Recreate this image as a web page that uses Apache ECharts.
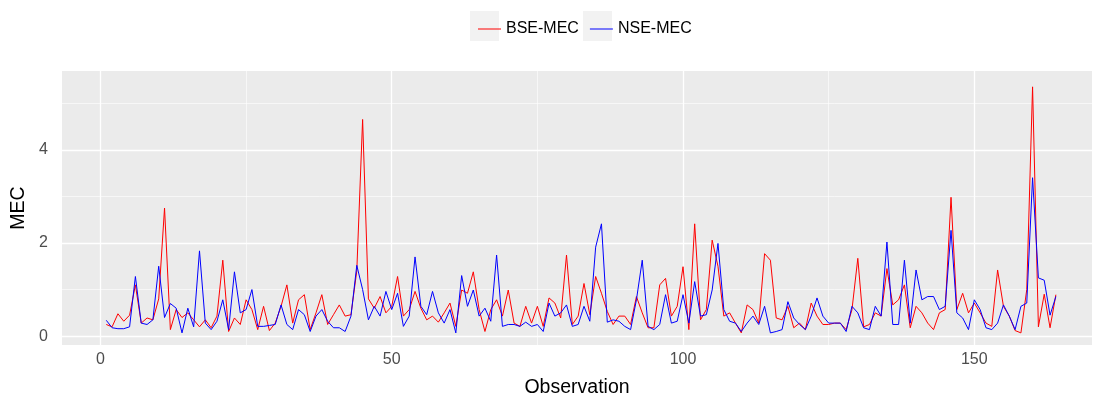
<!DOCTYPE html>
<html>
<head>
<meta charset="utf-8">
<script src="https://cdn.jsdelivr.net/npm/echarts@6/dist/echarts.min.js"></script>
<style>
  html, body { margin: 0; padding: 0; background: #fff; }
  #chart { width: 1094px; height: 398px; }
</style>
</head>
<body>
<div id="chart"></div>
<script>
// MEC per observation (obs 1..164)
var bseMec = [
  0.25, 0.2, 0.48, 0.32, 0.45, 1.1, 0.28, 0.39, 0.35, 0.8,
  2.75, 0.14, 0.57, 0.4, 0.5, 0.35, 0.2, 0.35, 0.18, 0.43,
  1.63, 0.1, 0.39, 0.25, 0.78, 0.57, 0.14, 0.64, 0.12, 0.28,
  0.64, 1.1, 0.28, 0.78, 0.89, 0.14, 0.5, 0.89, 0.25, 0.46,
  0.67, 0.43, 0.46, 1.4, 4.65, 0.8, 0.6, 0.85, 0.5, 0.64,
  1.28, 0.43, 0.57, 0.96, 0.6, 0.35, 0.43, 0.3, 0.5, 0.71,
  0.21, 0.99, 0.92, 1.38, 0.57, 0.1, 0.57, 0.78, 0.43, 0.99,
  0.28, 0.21, 0.64, 0.28, 0.64, 0.21, 0.82, 0.71, 0.39, 1.74,
  0.25, 0.43, 1.13, 0.46, 1.28, 0.92, 0.53, 0.25, 0.43, 0.43,
  0.25, 0.85, 0.5, 0.18, 0.18, 1.1, 1.24, 0.43, 0.64, 1.49,
  0.14, 2.41, 0.35, 0.57, 2.06, 1.5, 0.43, 0.5, 0.28, 0.07,
  0.67, 0.57, 0.28, 1.77, 1.63, 0.39, 0.35, 0.64, 0.18, 0.28,
  0.14, 0.71, 0.43, 0.25, 0.25, 0.28, 0.28, 0.14, 0.57, 1.67,
  0.2, 0.25, 0.5, 0.43, 1.45, 0.67, 0.78, 1.1, 0.18, 0.64,
  0.5, 0.28, 0.14, 0.5, 0.57, 2.98, 0.57, 0.92, 0.5, 0.71,
  0.5, 0.28, 0.21, 1.42, 0.64, 0.43, 0.12, 0.07, 1.0, 5.35,
  0.2, 0.9, 0.18, 0.89
];
var nseMec = [
  0.34, 0.18, 0.16, 0.16, 0.2, 1.28, 0.28, 0.25, 0.35, 1.5,
  0.4, 0.7, 0.6, 0.07, 0.6, 0.2, 1.83, 0.28, 0.14, 0.32,
  0.78, 0.14, 1.38, 0.5, 0.57, 1.0, 0.21, 0.21, 0.23, 0.25,
  0.67, 0.25, 0.14, 0.57, 0.46, 0.1, 0.43, 0.57, 0.32, 0.18,
  0.18, 0.1, 0.43, 1.52, 1.0, 0.35, 0.64, 0.43, 0.96, 0.57,
  0.92, 0.21, 0.43, 1.7, 0.64, 0.46, 0.96, 0.5, 0.28, 0.57,
  0.07, 1.3, 0.64, 0.99, 0.43, 0.6, 0.32, 1.74, 0.21, 0.25,
  0.25, 0.21, 0.3, 0.21, 0.25, 0.1, 0.71, 0.43, 0.5, 0.67,
  0.21, 0.25, 0.64, 0.32, 1.91, 2.41, 0.3, 0.35, 0.32, 0.21,
  0.14, 0.78, 1.63, 0.21, 0.14, 0.25, 0.89, 0.28, 0.32, 0.89,
  0.28, 1.17, 0.43, 0.46, 0.99, 1.99, 0.57, 0.32, 0.28, 0.1,
  0.28, 0.43, 0.25, 0.64, 0.07, 0.1, 0.14, 0.74, 0.39, 0.25,
  0.14, 0.43, 0.82, 0.43, 0.28, 0.28, 0.28, 0.1, 0.64, 0.5,
  0.18, 0.14, 0.64, 0.43, 2.02, 0.25, 0.25, 1.63, 0.28, 1.42,
  0.78, 0.85, 0.85, 0.57, 0.64, 2.27, 0.5, 0.39, 0.14, 0.78,
  0.57, 0.18, 0.14, 0.28, 0.67, 0.43, 0.14, 0.64, 0.71, 3.4,
  1.25, 1.2, 0.45, 0.85
];

var xMajor = [0, 50, 100, 150];
var xMinor = [25, 75, 125];
var yMajor = [0, 2, 4];
var yMinor = [1, 3, 5];

function toPoints(values) {
  return values.map(function (v, i) { return [i + 1, v]; });
}

function gridLines(axis, values, width) {
  return values.map(function (v) {
    var d = {};
    d[axis] = v;
    d.lineStyle = { color: '#ffffff', width: width, type: 'solid' };
    return d;
  });
}

var chart = echarts.init(document.getElementById('chart'));

var font = 'Liberation Sans, Arial, sans-serif';

var option = {
  backgroundColor: '#ffffff',
  animation: false,
  textStyle: { fontFamily: font },
  grid: {
    left: 62,
    right: 2,
    top: 71,
    bottom: 53,
    outerBoundsMode: 'none',
    containLabel: false,
    show: true,
    backgroundColor: '#EBEBEB',
    borderWidth: 0
  },
  legend: {
    top: 16,
    left: 473,
    itemWidth: 23,
    itemHeight: 1,
    itemGap: 11,
    icon: 'rect',
    itemStyle: { borderWidth: 0 },
    textStyle: { fontSize: 16, color: '#000', fontFamily: font },
    data: [
      { name: 'BSE-MEC', itemStyle: { color: '#FF0000', borderWidth: 0 } },
      { name: 'NSE-MEC', itemStyle: { color: '#0000FF', borderWidth: 0 } }
    ]
  },
  graphic: [
    { type: 'rect', shape: { x: 470, y: 11, width: 29, height: 30 }, style: { fill: '#F2F2F2' }, z: 0 },
    { type: 'rect', shape: { x: 583, y: 11, width: 29, height: 30 }, style: { fill: '#F2F2F2' }, z: 0 }
  ],
  xAxis: {
    type: 'value',
    min: -6.6,
    max: 170.2,
    name: 'Observation',
    nameLocation: 'middle',
    nameGap: 33,
    nameTextStyle: { fontSize: 19.5, color: '#000', fontFamily: font },
    axisLine: { show: false },
    axisTick: { show: true, length: 4, lineStyle: { color: '#333' }, customValues: xMajor },
    axisLabel: { fontSize: 16, color: '#4D4D4D', margin: 7, customValues: xMajor },
    splitLine: { show: false }
  },
  yAxis: {
    type: 'value',
    min: -0.19,
    max: 5.69,
    name: 'MEC',
    nameLocation: 'middle',
    nameGap: 29,
    nameRotate: 90,
    nameTextStyle: { fontSize: 19.5, color: '#000', fontFamily: font },
    axisLine: { show: false },
    axisTick: { show: true, length: 4, lineStyle: { color: '#333' }, customValues: yMajor },
    axisLabel: { fontSize: 16, color: '#4D4D4D', margin: 14, customValues: yMajor },
    splitLine: { show: false }
  },
  series: [
    {
      name: 'BSE-MEC',
      type: 'line',
      data: toPoints(bseMec),
      showSymbol: false,
      symbol: 'none',
      z: 3,
      lineStyle: { color: '#FF0000', width: 1 },
      itemStyle: { color: '#FF0000' },
      markLine: {
        silent: true,
        symbol: 'none',
        z: 1,
        label: { show: false },
        animation: false,
        data: gridLines('xAxis', xMinor, 0.6)
          .concat(gridLines('yAxis', yMinor, 0.6))
          .concat(gridLines('xAxis', xMajor, 1.3))
          .concat(gridLines('yAxis', yMajor, 1.3))
      }
    },
    {
      name: 'NSE-MEC',
      type: 'line',
      data: toPoints(nseMec),
      showSymbol: false,
      symbol: 'none',
      z: 4,
      lineStyle: { color: '#0000FF', width: 1 },
      itemStyle: { color: '#0000FF' }
    }
  ]
};

chart.setOption(option);
</script>
</body>
</html>
